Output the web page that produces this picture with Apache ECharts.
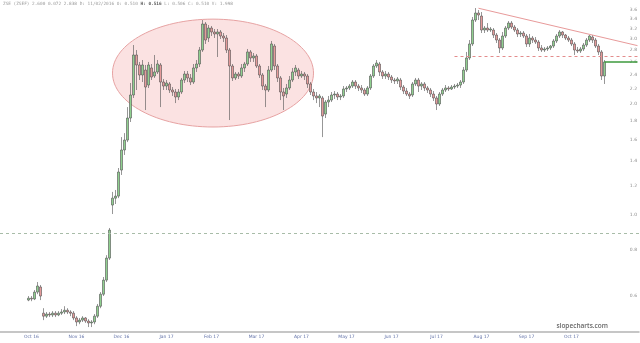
<!DOCTYPE html>
<html><head><meta charset="utf-8">
<script src="https://cdn.jsdelivr.net/npm/echarts@6/dist/echarts.min.js"></script>
<style>html,body{margin:0;padding:0;background:#fff}#c{width:640px;height:343px}</style>
</head><body><div id="c"></div>
<script>
// ---- data ----
const monthLabels = ['Oct 16','Nov 16','Dec 16','Jan 17','Feb 17','Mar 17','Apr 17','May 17','Jun 17','Jul 17','Aug 17','Sep 17','Oct 17'];
const yTicks = [3.6,3.4,3.2,3.0,2.8,2.6,2.4,2.2,2.0,1.8,1.6,1.4,1.2,1.0,0.8,0.6];
const opens = [
.585,.592,.589,.615,.635,.539,.529,.536,.533,.539,
.533,.539,.543,.549,.543,.539,.523,.510,.516,.523,
.513,.507,.510,.529,.563,.607,.663,.761,1.061,1.108,
1.122,1.321,1.498,1.594,1.830,2.114,2.716,2.551,2.396,2.472,
2.250,2.504,2.381,2.442,2.551,2.293,2.236,2.265,2.181,2.154,
2.088,2.154,2.322,2.411,2.352,2.293,2.504,2.567,2.802,3.298,
3.021,3.216,3.137,3.098,3.137,3.059,3.021,2.802,2.535,2.352,
2.411,2.381,2.504,2.567,2.768,2.666,2.699,2.535,2.396,2.236,
2.181,2.472,2.873,2.535,2.352,2.154,2.127,2.209,2.322,2.442,
2.472,2.381,2.411,2.381,2.265,2.154,2.101,2.075,2.075,1.876,
2.023,2.048,2.114,2.127,2.088,2.101,2.195,2.209,2.236,2.293,
2.236,2.209,2.181,2.127,2.209,2.381,2.535,2.567,2.442,2.381,
2.411,2.366,2.322,2.308,2.322,2.222,2.167,2.127,2.114,2.265,
2.322,2.236,2.265,2.209,2.181,2.127,2.075,1.998,2.127,2.181,
2.209,2.195,2.222,2.236,2.250,2.293,2.472,2.666,2.910,3.381,
3.533,3.467,3.176,3.216,3.176,3.176,3.078,2.983,2.838,3.059,
3.216,3.318,3.236,3.176,3.098,3.117,3.059,2.910,3.021,2.983,
2.946,2.838,2.802,2.820,2.838,2.873,2.965,3.059,3.137,3.078,
3.021,2.983,2.910,2.802,2.785,2.820,2.891,2.983,3.040,2.983,
2.873,2.768,2.381];
const closes = [
.592,.589,.615,.639,.600,.529,.536,.533,.539,.533,
.539,.543,.549,.543,.539,.523,.510,.516,.523,.513,
.507,.510,.529,.563,.607,.663,.761,.907,1.108,1.122,
1.305,1.498,1.594,1.830,2.114,2.716,2.551,2.396,2.551,2.222,
2.551,2.366,2.442,2.567,2.293,2.236,2.279,2.181,2.154,2.088,
2.154,2.322,2.411,2.352,2.293,2.504,2.567,2.802,3.298,2.983,
3.216,3.137,3.098,3.137,3.059,3.021,2.802,2.535,2.352,2.411,
2.381,2.504,2.567,2.768,2.666,2.699,2.535,2.396,2.236,2.181,
2.472,2.910,2.535,2.352,2.154,2.101,2.209,2.322,2.442,2.504,
2.381,2.411,2.381,2.265,2.154,2.101,2.075,2.101,1.853,2.023,
2.048,2.114,2.127,2.088,2.101,2.195,2.209,2.236,2.293,2.236,
2.209,2.181,2.127,2.209,2.381,2.535,2.583,2.442,2.381,2.411,
2.366,2.322,2.308,2.337,2.222,2.167,2.127,2.101,2.265,2.322,
2.236,2.265,2.209,2.181,2.127,2.075,1.998,2.127,2.181,2.209,
2.195,2.222,2.236,2.250,2.293,2.472,2.666,2.910,3.381,3.533,
3.489,3.176,3.216,3.176,3.196,3.078,2.983,2.838,3.059,3.216,
3.318,3.236,3.176,3.098,3.117,3.059,2.910,3.021,2.983,2.946,
2.838,2.802,2.820,2.838,2.873,2.965,3.059,3.137,3.078,3.021,
2.983,2.910,2.802,2.785,2.820,2.891,2.983,3.059,2.983,2.873,
2.768,2.381,2.600];
const lows = [
.581,.581,.585,.607,.585,.516,.523,.526,.526,.526,
.529,.533,.536,.536,.529,.516,.497,.503,.510,.507,
.494,.494,.503,.523,.556,.600,.655,.752,1.003,1.068,
1.108,1.281,1.452,1.574,1.785,2.075,2.181,2.322,2.293,1.924,
2.209,2.322,2.352,2.411,1.960,2.181,2.181,2.141,2.101,2.010,
2.048,2.127,2.279,2.293,2.250,2.265,2.442,2.519,2.768,2.910,
2.946,3.059,3.021,2.682,3.002,2.946,2.750,1.807,2.308,2.322,
2.337,2.352,2.442,2.535,2.600,2.600,2.504,2.352,2.181,1.960,
2.154,2.442,2.472,2.293,2.048,1.924,2.075,2.181,2.293,2.381,
2.337,2.352,2.322,2.209,2.114,2.048,2.010,1.960,1.624,1.830,
1.960,2.023,2.062,2.048,2.048,2.075,2.154,2.181,2.209,2.195,
2.167,2.141,2.101,2.101,2.181,2.352,2.504,2.381,2.337,2.337,
2.322,2.279,2.265,2.265,2.181,2.127,2.101,2.062,2.088,2.236,
2.154,2.181,2.167,2.141,2.088,2.036,1.924,1.973,2.101,2.154,
2.167,2.181,2.195,2.209,2.209,2.265,2.442,2.632,2.873,3.339,
3.381,3.117,3.117,3.137,3.137,3.021,2.928,2.750,2.802,3.021,
3.176,3.196,3.137,3.040,3.040,3.021,2.856,2.856,2.928,2.910,
2.785,2.768,2.768,2.785,2.802,2.838,2.928,3.021,3.021,2.983,
2.946,2.873,2.716,2.750,2.750,2.785,2.856,2.946,2.928,2.838,
2.716,2.322,2.265];
const highs = [
.600,.600,.623,.655,.643,.556,.543,.543,.546,.546,
.546,.553,.563,.556,.549,.546,.529,.523,.529,.526,
.519,.516,.536,.571,.615,.676,.775,.919,1.152,1.166,
1.338,1.624,1.665,1.960,2.279,2.891,2.802,2.600,2.632,2.551,
2.600,2.567,2.716,2.632,2.583,2.337,2.322,2.293,2.222,2.195,
2.195,2.352,2.457,2.457,2.411,2.567,2.632,2.856,3.381,3.339,
3.277,3.257,3.196,3.196,3.176,3.117,3.078,2.838,2.567,2.442,
2.442,2.567,2.600,2.820,2.802,2.750,2.733,2.567,2.426,2.265,
2.535,2.965,2.910,2.567,2.381,2.209,2.265,2.381,2.504,2.551,
2.504,2.457,2.442,2.411,2.293,2.195,2.154,2.127,2.101,2.048,
2.101,2.154,2.167,2.154,2.127,2.236,2.236,2.265,2.322,2.322,
2.265,2.250,2.209,2.236,2.411,2.567,2.632,2.600,2.472,2.457,
2.442,2.396,2.352,2.366,2.352,2.250,2.209,2.154,2.293,2.352,
2.352,2.293,2.293,2.236,2.209,2.167,2.101,2.154,2.209,2.250,
2.236,2.250,2.265,2.279,2.322,2.519,2.768,2.983,3.446,3.645,
3.600,3.555,3.257,3.318,3.236,3.216,3.117,3.021,3.137,3.257,
3.360,3.360,3.277,3.216,3.156,3.156,3.098,3.098,3.059,3.040,
2.983,2.891,2.856,2.873,2.891,3.002,3.098,3.176,3.156,3.098,
3.059,3.021,2.946,2.856,2.856,2.928,3.021,3.078,3.078,3.021,
2.910,2.802,2.632];
const currentPrice = 2.600;
const supportLevel = 0.89;
const resistanceLevel = 2.70;
const titleText = 'ZSE (ZSEF) 2.600 0.072 2.838 D: 11/02/2016 O: 0.510 {b|H: 0.516} L: 0.506 C: 0.510 V: 1.998';

// ---- layout ----
const LEAD = 9, TRAIL = 11, FIRST_LABEL = 10, LABEL_STEP = 15;
const nC = opens.length;
const nCats = LEAD + nC + TRAIL;
const categories = Array.from({length: nCats}, (_, i) => 'd' + i);
const labelAt = {};
monthLabels.forEach((m, k) => { labelAt[FIRST_LABEL + LABEL_STEP * k] = m; });
const candleData = opens.map((o, j) => [LEAD + j, o, closes[j], lows[j], highs[j]]);
const lastIdx = LEAD + nC - 1;
const priceLine = [[lastIdx, currentPrice], [nCats - 1, currentPrice]];
const resistStart = 151;
const trendFrom = [159, 3.64], trendTo = [nCats - 1, 2.88];
const ellipseBox = {fromCat: 37, toCat: 104, top: 3.40, bottom: 1.73};

const chart = echarts.init(document.getElementById('c'), null, {renderer: 'canvas'});
chart.setOption({
  animation: false,
  backgroundColor: '#fff',
  grid: {left: 0, right: 0, top: 0, bottom: 11},
  xAxis: {
    type: 'category', data: categories, boundaryGap: true,
    axisLine: {lineStyle: {color: '#b4b4b4', width: 1.5}},
    axisTick: {show: false},
    axisLabel: {
      interval: (i) => labelAt[i] !== undefined,
      formatter: (v, i) => labelAt[i] || '',
      fontSize: 4.5, color: '#6272a8', margin: 2, fontFamily: 'DejaVu Sans'
    },
    splitLine: {show: false}
  },
  yAxis: {
    type: 'log', logBase: 10, position: 'right',
    min: 0.479, max: 3.833,
    axisLine: {show: false}, axisTick: {show: false}, splitLine: {show: false},
    axisLabel: {
      inside: true, customValues: yTicks, margin: 2,
      formatter: (v) => Number(v).toFixed(1),
      fontSize: 4.5, color: '#8a8a8a', fontFamily: 'DejaVu Sans'
    }
  },
  series: [
    {
      type: 'candlestick', data: candleData, encode: {x: 0, y: [1, 2, 3, 4]},
      barWidth: 2,
      itemStyle: {color: '#8fd08f', color0: '#e59a9a', borderColor: '#505050', borderColor0: '#505050', borderWidth: 0.6},
      markLine: {
        silent: true, symbol: ['none', 'none'], label: {show: false},
        data: [
          {yAxis: supportLevel, lineStyle: {color: '#a8bca8', type: [3, 3], width: 1}},
          [{coord: [resistStart, resistanceLevel], lineStyle: {color: '#e38c8c', type: [3, 3], width: 1}},
           {coord: [nCats - 1, resistanceLevel]}],
          [{coord: trendFrom, lineStyle: {color: '#e89a9a', type: 'solid', width: 1}},
           {coord: trendTo}]
        ]
      },
      z: 3
    },
    {
      type: 'line', data: priceLine, showSymbol: false, symbol: 'none',
      lineStyle: {color: '#3d9a3d', width: 1.6}, z: 4
    }
  ]
});

const p0 = chart.convertToPixel({xAxisIndex: 0, yAxisIndex: 0}, [ellipseBox.fromCat, ellipseBox.top]);
const p1 = chart.convertToPixel({xAxisIndex: 0, yAxisIndex: 0}, [ellipseBox.toCat, ellipseBox.bottom]);
chart.setOption({
  graphic: [
    {type: 'ellipse', z: 1, silent: true,
     shape: {cx: (p0[0] + p1[0]) / 2, cy: (p0[1] + p1[1]) / 2, rx: Math.abs(p1[0] - p0[0]) / 2, ry: Math.abs(p1[1] - p0[1]) / 2},
     style: {fill: 'rgba(240,150,150,0.28)', stroke: '#e7a2a2', lineWidth: 1}},
    {type: 'text', left: 3, top: 2, z: 10, silent: true,
     style: {text: titleText, font: '4.4px "DejaVu Sans Mono"', fill: '#9a9a9a',
             rich: {b: {fontWeight: 'bold', fill: '#555', fontSize: 4.4, fontFamily: 'DejaVu Sans Mono'}}}},
    {type: 'text', right: 32, top: 323, z: 10, silent: true,
     style: {text: 'slopecharts.com', font: '600 6.5px "Open Sans"', fill: '#666'}}
  ]
});
</script></body></html>
